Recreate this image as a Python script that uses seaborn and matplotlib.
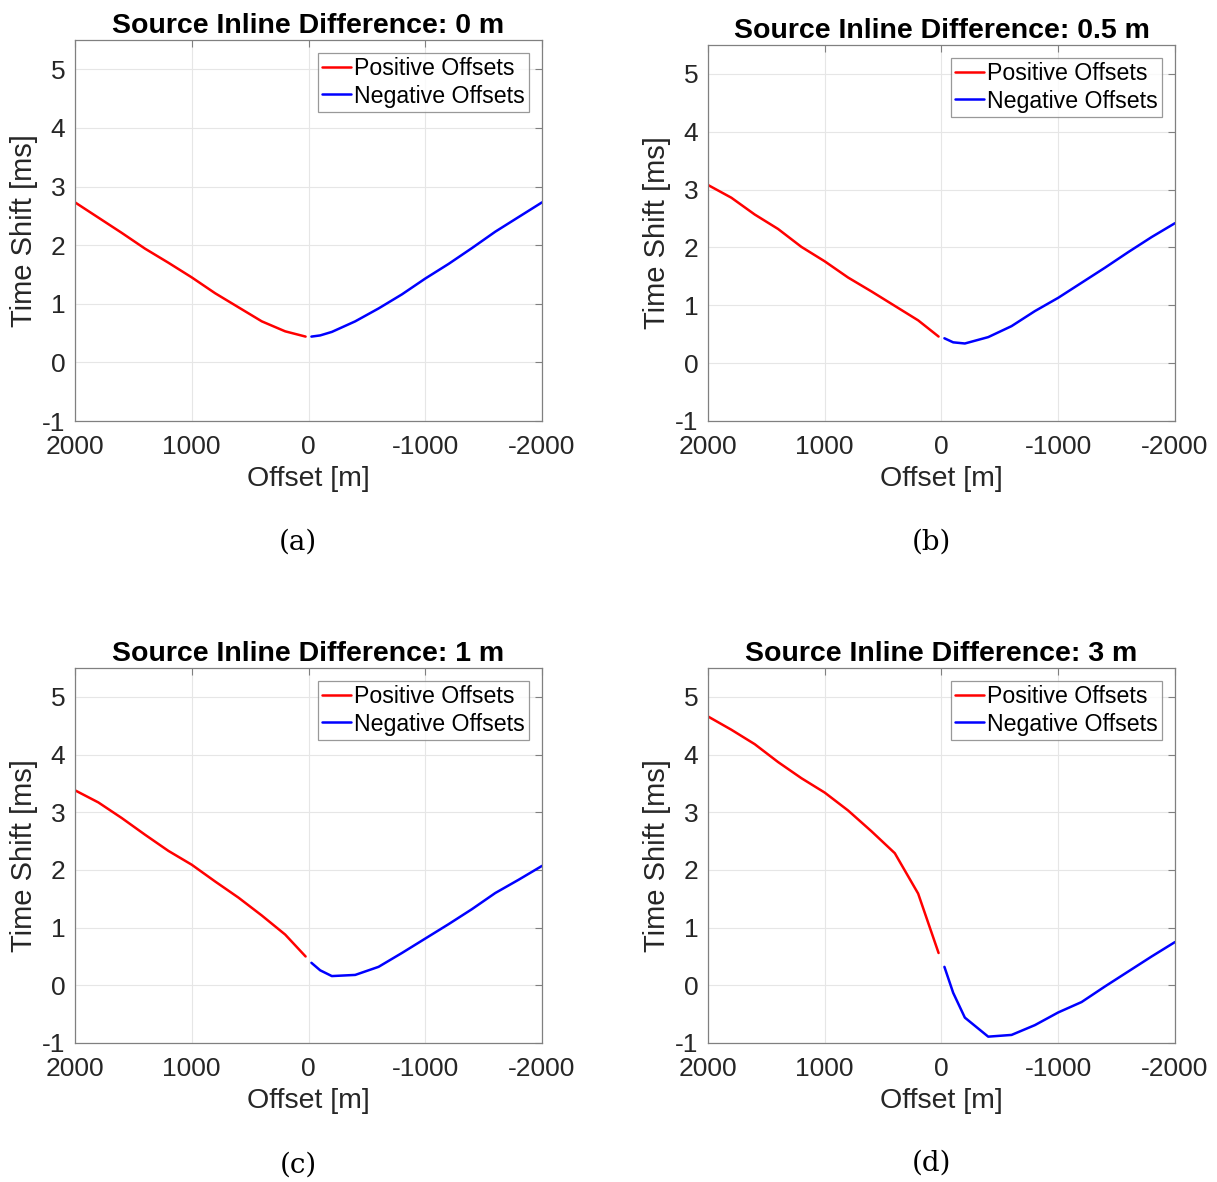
import numpy as np
import pandas as pd
import seaborn as sns
import matplotlib
matplotlib.use("Agg")
import matplotlib.pyplot as plt

# ---- data ----
pos_offsets = [2000, 1800, 1600, 1400, 1200, 1000, 800, 600, 400, 200, 25]
neg_offsets = [-25, -100, -200, -400, -600, -800, -1000, -1200, -1400, -1600, -1800, -2000]

titles = ["Source Inline Difference: 0 m", "Source Inline Difference: 0.5 m",
          "Source Inline Difference: 1 m", "Source Inline Difference: 3 m"]
captions = ["(a)", "(b)", "(c)", "(d)"]

pos_a = [2.73, 2.47, 2.21, 1.94, 1.70, 1.45, 1.18, 0.94, 0.70, 0.53, 0.44]
neg_a = [0.44, 0.46, 0.52, 0.70, 0.92, 1.16, 1.43, 1.68, 1.95, 2.23, 2.48, 2.73]

pos_b = [3.08, 2.86, 2.57, 2.32, 2.01, 1.76, 1.48, 1.24, 0.99, 0.74, 0.46]
neg_b = [0.43, 0.36, 0.34, 0.45, 0.64, 0.90, 1.13, 1.39, 1.65, 1.92, 2.18, 2.42]

pos_c = [3.38, 3.17, 2.90, 2.61, 2.33, 2.09, 1.80, 1.52, 1.21, 0.88, 0.50]
neg_c = [0.39, 0.26, 0.16, 0.18, 0.32, 0.56, 0.81, 1.06, 1.32, 1.60, 1.83, 2.07]

pos_d = [4.66, 4.43, 4.18, 3.87, 3.59, 3.34, 3.03, 2.67, 2.29, 1.59, 0.56]
neg_d = [0.32, -0.13, -0.56, -0.89, -0.86, -0.69, -0.47, -0.29, -0.02, 0.24, 0.50, 0.75]

pos_series = [pos_a, pos_b, pos_c, pos_d]
neg_series = [neg_a, neg_b, neg_c, neg_d]

x_ticks = [2000, 1000, 0, -1000, -2000]
y_ticks = [-1, 0, 1, 2, 3, 4, 5]

# ---- style ----
sns.set_style("white")
plt.rcParams["font.family"] = ["Liberation Sans", "DejaVu Sans"]
plt.rcParams["axes.unicode_minus"] = False

W, H = 1217, 1182
fig = plt.figure(figsize=(W / 100, H / 100), dpi=100)

# axes boxes in pixels: left, top, right, bottom
boxes = [(75, 40, 542, 421), (708, 45, 1175, 421),
         (75, 668, 542, 1043), (708, 668, 1175, 1043)]
cap_pos = [(298, 542), (931, 542), (298, 1165), (931, 1163)]

txt = "#262626"
for i in range(4):
    l, t, r, b = boxes[i]
    ax = fig.add_axes([l / W, 1 - b / H, (r - l) / W, (b - t) / H])
    dpos = pd.DataFrame({"offset": pos_offsets, "shift": pos_series[i]})
    dneg = pd.DataFrame({"offset": neg_offsets, "shift": neg_series[i]})
    sns.lineplot(data=dpos, x="offset", y="shift", ax=ax, color="#ff0000",
                 linewidth=1.8, label="Positive Offsets", sort=False)
    sns.lineplot(data=dneg, x="offset", y="shift", ax=ax, color="#0000ff",
                 linewidth=1.8, label="Negative Offsets", sort=False)
    ax.set_xlim(2000, -2000)
    ax.set_ylim(-1, 5.5)
    ax.set_xticks(x_ticks)
    ax.set_xticklabels([str(v) for v in x_ticks])
    ax.set_yticks(y_ticks)
    ax.set_yticklabels([str(v) for v in y_ticks])
    ax.grid(True, color="#e6e6e6", linewidth=0.8)
    ax.set_axisbelow(True)
    for s in ax.spines.values():
        s.set_color("#808080")
        s.set_linewidth(0.9)
    ax.tick_params(axis="both", direction="in", length=5, width=0.8,
                   color="#808080", labelsize=19, labelcolor=txt,
                   top=True, right=True)
    ax.tick_params(axis="x", pad=10)
    ax.tick_params(axis="y", pad=7)
    ax.set_xlabel("Offset [m]", fontsize=20.5, color=txt, labelpad=5)
    ax.set_ylabel("Time Shift [ms]", fontsize=21, color=txt, labelpad=3)
    ax.set_title(titles[i], fontsize=20.5, fontweight="bold", color="black", pad=5)
    leg = ax.legend(loc="upper right", fontsize=16.7, frameon=True, fancybox=False,
                    handlelength=1.25, handletextpad=0.15, borderpad=0.18,
                    labelspacing=0.2, borderaxespad=0.55)
    leg.get_frame().set_edgecolor("#808080")
    leg.get_frame().set_linewidth(0.9)
    for tx in leg.get_texts():
        tx.set_color("black")
    cx, cy = cap_pos[i]
    fig.text(cx / W, 1 - cy / H, captions[i], ha="center", va="center",
             fontsize=20, family=["DejaVu Serif"], color="black")

fig.savefig("out.png", dpi=100)
